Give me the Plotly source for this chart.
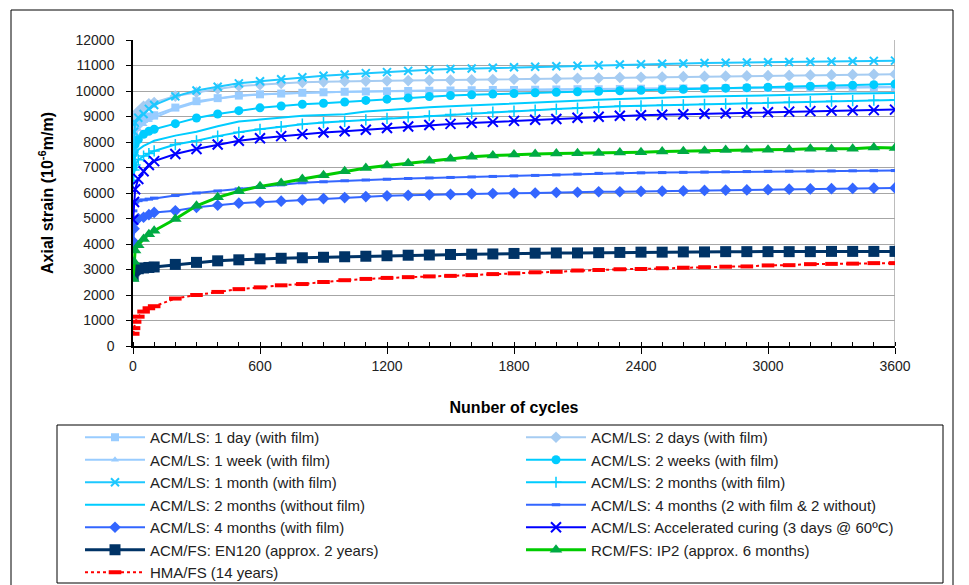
import plotly.graph_objects as go

cycles = [1, 5, 10, 25, 50, 75, 100, 200, 300, 400, 500, 600, 700, 800, 900, 1000,
          1100, 1200, 1300, 1400, 1500, 1600, 1700, 1800, 1900, 2000, 2100, 2200,
          2300, 2400, 2500, 2600, 2700, 2800, 2900, 3000, 3100, 3200, 3300, 3400,
          3500, 3600]

acm_1day = [7800, 8300, 8600, 8800, 8900, 9000, 9050, 9350, 9600, 9720, 9820, 9870,
            9900, 9930, 9950, 9970, 9980, 9990, 10000, 10010, 10020, 10030, 10040,
            10040, 10050, 10060, 10070, 10070, 10080, 10090, 10090, 10100, 10100,
            10110, 10110, 10120, 10120, 10130, 10130, 10140, 10140, 10150]
acm_2days = [8300, 8800, 9000, 9200, 9400, 9500, 9550, 9800, 9950, 10080, 10200, 10250,
             10300, 10340, 10360, 10380, 10390, 10400, 10410, 10420, 10430, 10440,
             10450, 10460, 10470, 10480, 10500, 10510, 10530, 10540, 10550, 10560,
             10570, 10580, 10590, 10600, 10610, 10620, 10630, 10640, 10650, 10660]
acm_1week = [7400, 7900, 8200, 8500, 8700, 8850, 8950, 9300, 9550, 9700, 9800, 9860,
             9900, 9930, 9950, 9970, 9990, 10000, 10010, 10020, 10030, 10040, 10050,
             10060, 10070, 10080, 10080, 10090, 10100, 10100, 10110, 10110, 10120,
             10120, 10130, 10130, 10140, 10140, 10150, 10150, 10160, 10160]
acm_2weeks = [7000, 7600, 7900, 8100, 8300, 8420, 8500, 8720, 8940, 9100, 9230, 9340,
              9410, 9480, 9520, 9570, 9630, 9680, 9730, 9780, 9820, 9850, 9880, 9900,
              9930, 9950, 9970, 9990, 10010, 10030, 10050, 10070, 10090, 10110, 10130,
              10150, 10170, 10190, 10210, 10230, 10250, 10270]
acm_1month = [7600, 8400, 8750, 8950, 9100, 9300, 9450, 9790, 10020, 10170, 10300,
              10380, 10460, 10540, 10600, 10650, 10700, 10740, 10790, 10830, 10860,
              10880, 10910, 10930, 10950, 10970, 10990, 11010, 11040, 11050, 11070,
              11080, 11100, 11110, 11120, 11130, 11140, 11150, 11160, 11170, 11180, 11190]
acm_2months_film = [6500, 6900, 7100, 7300, 7450, 7550, 7650, 7900, 8050, 8230, 8380,
                    8500, 8600, 8700, 8760, 8810, 8870, 8930, 8980, 9030, 9080, 9130,
                    9170, 9210, 9250, 9290, 9330, 9370, 9400, 9420, 9440, 9460, 9480,
                    9500, 9520, 9540, 9560, 9580, 9600, 9620, 9640, 9650]
acm_2months_nofilm = [6800, 7200, 7450, 7700, 7850, 7950, 8050, 8250, 8400, 8620, 8800,
                      8880, 8950, 9030, 9060, 9090, 9200, 9260, 9310, 9360, 9400, 9440,
                      9480, 9520, 9550, 9590, 9620, 9660, 9690, 9720, 9740, 9760, 9780,
                      9800, 9820, 9840, 9860, 9870, 9890, 9900, 9910, 9920]
acm_4months_mixed = [5300, 5600, 5650, 5700, 5730, 5760, 5800, 5900, 6000, 6080, 6160,
                     6250, 6320, 6400, 6440, 6480, 6510, 6540, 6570, 6590, 6610, 6630,
                     6650, 6670, 6690, 6710, 6740, 6770, 6780, 6790, 6800, 6810, 6820,
                     6830, 6840, 6850, 6855, 6860, 6865, 6870, 6875, 6880]
acm_4months_film = [4100, 4600, 4900, 5000, 5050, 5150, 5240, 5300, 5440, 5520, 5600,
                    5640, 5680, 5730, 5780, 5820, 5860, 5890, 5910, 5930, 5950, 5970,
                    5980, 5990, 6000, 6020, 6030, 6050, 6050, 6060, 6070, 6080, 6100,
                    6110, 6120, 6130, 6150, 6160, 6170, 6180, 6190, 6200]
acm_accelerated = [4950, 5650, 6150, 6550, 6850, 7100, 7250, 7530, 7725, 7900, 8050,
                   8150, 8230, 8310, 8370, 8420, 8480, 8550, 8610, 8670, 8710, 8750,
                   8790, 8830, 8870, 8900, 8950, 8990, 9030, 9050, 9070, 9090, 9110,
                   9130, 9150, 9170, 9190, 9210, 9230, 9240, 9250, 9270]
acmfs_en120 = [2750, 2950, 3000, 3030, 3060, 3080, 3100, 3200, 3280, 3340, 3380, 3420,
               3440, 3460, 3480, 3500, 3520, 3540, 3560, 3570, 3590, 3600, 3610, 3630,
               3640, 3650, 3650, 3660, 3670, 3680, 3680, 3690, 3690, 3700, 3700, 3700,
               3700, 3700, 3710, 3710, 3710, 3710]
rcmfs_ip2 = [2630, 3300, 3750, 3950, 4200, 4380, 4520, 4980, 5500, 5830, 6070, 6260,
             6390, 6550, 6700, 6850, 6980, 7080, 7170, 7260, 7340, 7420, 7470, 7510,
             7530, 7550, 7560, 7570, 7590, 7600, 7630, 7640, 7660, 7690, 7700, 7700,
             7710, 7740, 7730, 7740, 7780, 7760]
hmafs_14y = [480, 700, 950, 1150, 1350, 1480, 1560, 1860, 2000, 2120, 2230, 2300, 2380,
             2430, 2510, 2580, 2630, 2670, 2700, 2730, 2750, 2780, 2820, 2850, 2890,
             2910, 2960, 2980, 3010, 3020, 3050, 3070, 3090, 3110, 3120, 3160, 3170,
             3210, 3220, 3230, 3250, 3250]

names = [
    "ACM/LS: 1 day (with film)",
    "ACM/LS: 2 days (with film)",
    "ACM/LS: 1 week (with film)",
    "ACM/LS: 2 weeks (with film)",
    "ACM/LS: 1 month (with film)",
    "ACM/LS: 2 months (with film)",
    "ACM/LS: 2 months (without film)",
    "ACM/LS: 4 months (2 with film & 2 without)",
    "ACM/LS: 4 months (with film)",
    "ACM/LS: Accelerated curing (3 days @ 60ºC)",
    "ACM/FS: EN120 (approx. 2 years)",
    "RCM/FS: IP2 (approx. 6 months)",
    "HMA/FS (14 years)",
]
data = [acm_1day, acm_2days, acm_1week, acm_2weeks, acm_1month, acm_2months_film,
        acm_2months_nofilm, acm_4months_mixed, acm_4months_film, acm_accelerated,
        acmfs_en120, rcmfs_ip2, hmafs_14y]

# style: (line color, marker color, symbol, size, line width, dash, marker line width, mode)
styles = [
    ("#99CCFF", "#99CCFF", "square", 8, 2, "solid", 0, "lines+markers"),
    ("#A6CCF2", "#A6CCF2", "diamond", 9, 2, "solid", 0, "lines+markers"),
    ("#99CCFF", "#99CCFF", "triangle-up", 7, 2, "solid", 0, "lines+markers"),
    ("#00CCFF", "#00CCFF", "circle", 9, 2, "solid", 0, "lines+markers"),
    ("#1EC8FF", "#1EC8FF", "x-thin", 8, 2, "solid", 2, "lines+markers"),
    ("#00CCFF", "#00CCFF", "cross-thin", 8, 2, "solid", 1.5, "lines+markers"),
    ("#00CCFF", "#00CCFF", "line-ew", 5, 2, "solid", 2, "lines"),
    ("#3366FF", "#3366FF", "line-ew", 6, 2, "solid", 3, "lines+markers"),
    ("#3366FF", "#3366FF", "diamond", 9, 2, "solid", 0, "lines+markers"),
    ("#0000FF", "#0000FF", "x-thin", 10, 2, "solid", 2, "lines+markers"),
    ("#003366", "#003366", "square", 11, 3, "solid", 0, "lines+markers"),
    ("#00CC00", "#00AA44", "triangle-up", 11, 3, "solid", 0, "lines+markers"),
    ("#FF0000", "#FF0000", "line-ew", 9, 2, "dot", 4, "lines+markers"),
]

fig = go.Figure()
for name, ys, st in zip(names, data, styles):
    lc, mc, sym, size, lw, dash, mlw, mode = st
    fig.add_trace(go.Scatter(
        x=cycles, y=ys, name=name, mode=mode,
        line=dict(color=lc, width=lw, dash=dash),
        marker=dict(symbol=sym, size=size, color=mc,
                    line=dict(color=mc, width=mlw)),
    ))

# page is offset by the 8px body margin
W, H = 961, 577
L, R, T, B = 125, 74, 32, 239
pw, ph = W - L - R, H - T - B


def px_x(p):  # page pixel -> paper x
    return (p - 8 - L) / pw


def px_y(p):  # page pixel -> paper y
    return (H - B - (p - 8)) / ph


fig.update_layout(
    width=W, height=H,
    margin=dict(l=L, r=R, t=T, b=B, autoexpand=False),
    paper_bgcolor="white", plot_bgcolor="white",
    font=dict(family="Liberation Sans, Arial, sans-serif", size=14, color="#222222"),
    showlegend=True,
    legend=dict(
        orientation="h", x=px_x(80), y=px_y(421), xanchor="left", yanchor="top",
        bgcolor="rgba(0,0,0,0)", borderwidth=0,
        font=dict(size=15, color="#222222"),
        itemwidth=60, entrywidth=366, entrywidthmode="pixels",
        traceorder="normal",
    ),
    xaxis=dict(
        range=[0, 3600], dtick=600, tick0=0, tickformat="d",
        showgrid=False, zeroline=False,
        showline=True, linecolor="#000000", linewidth=1.5,
        ticks="outside", ticklen=6, tickcolor="#000000", tickwidth=1,
        minor=dict(dtick=100, ticks="inside", ticklen=4, tickcolor="#000000", showgrid=False),
        tickfont=dict(size=14, color="#222222"),
        title=dict(text="<b>Nunber of cycles</b>", font=dict(size=16, color="#000000"), standoff=29),
    ),
    yaxis=dict(
        range=[0, 12000], dtick=1000, tick0=0, tickformat="d",
        showgrid=True, gridcolor="#A6A6A6", gridwidth=1.2,
        zeroline=False,
        showline=True, linecolor="#000000", linewidth=1.5,
        ticks="outside", ticklen=5, tickcolor="#000000",
        ticklabelstandoff=9,
        tickfont=dict(size=14, color="#222222"),
        title=dict(text="<b>Axial strain (10<sup>-6</sup>m/m)</b>", font=dict(size=16, color="#000000"), standoff=18),
    ),
    shapes=[
        dict(type="line", xref="x", yref="y", x0=3600, x1=3600, y0=0, y1=12000,
             line=dict(color="#A6A6A6", width=1.5), layer="below"),
        dict(type="rect", xref="paper", yref="paper",
             x0=px_x(57), x1=px_x(943), y0=px_y(583), y1=px_y(425),
             line=dict(color="#000000", width=1)),
        dict(type="rect", xref="paper", yref="paper",
             x0=px_x(11), x1=px_x(953), y0=px_y(600), y1=px_y(10),
             line=dict(color="#000000", width=1)),
    ],
)

fig.write_html("out.html")
